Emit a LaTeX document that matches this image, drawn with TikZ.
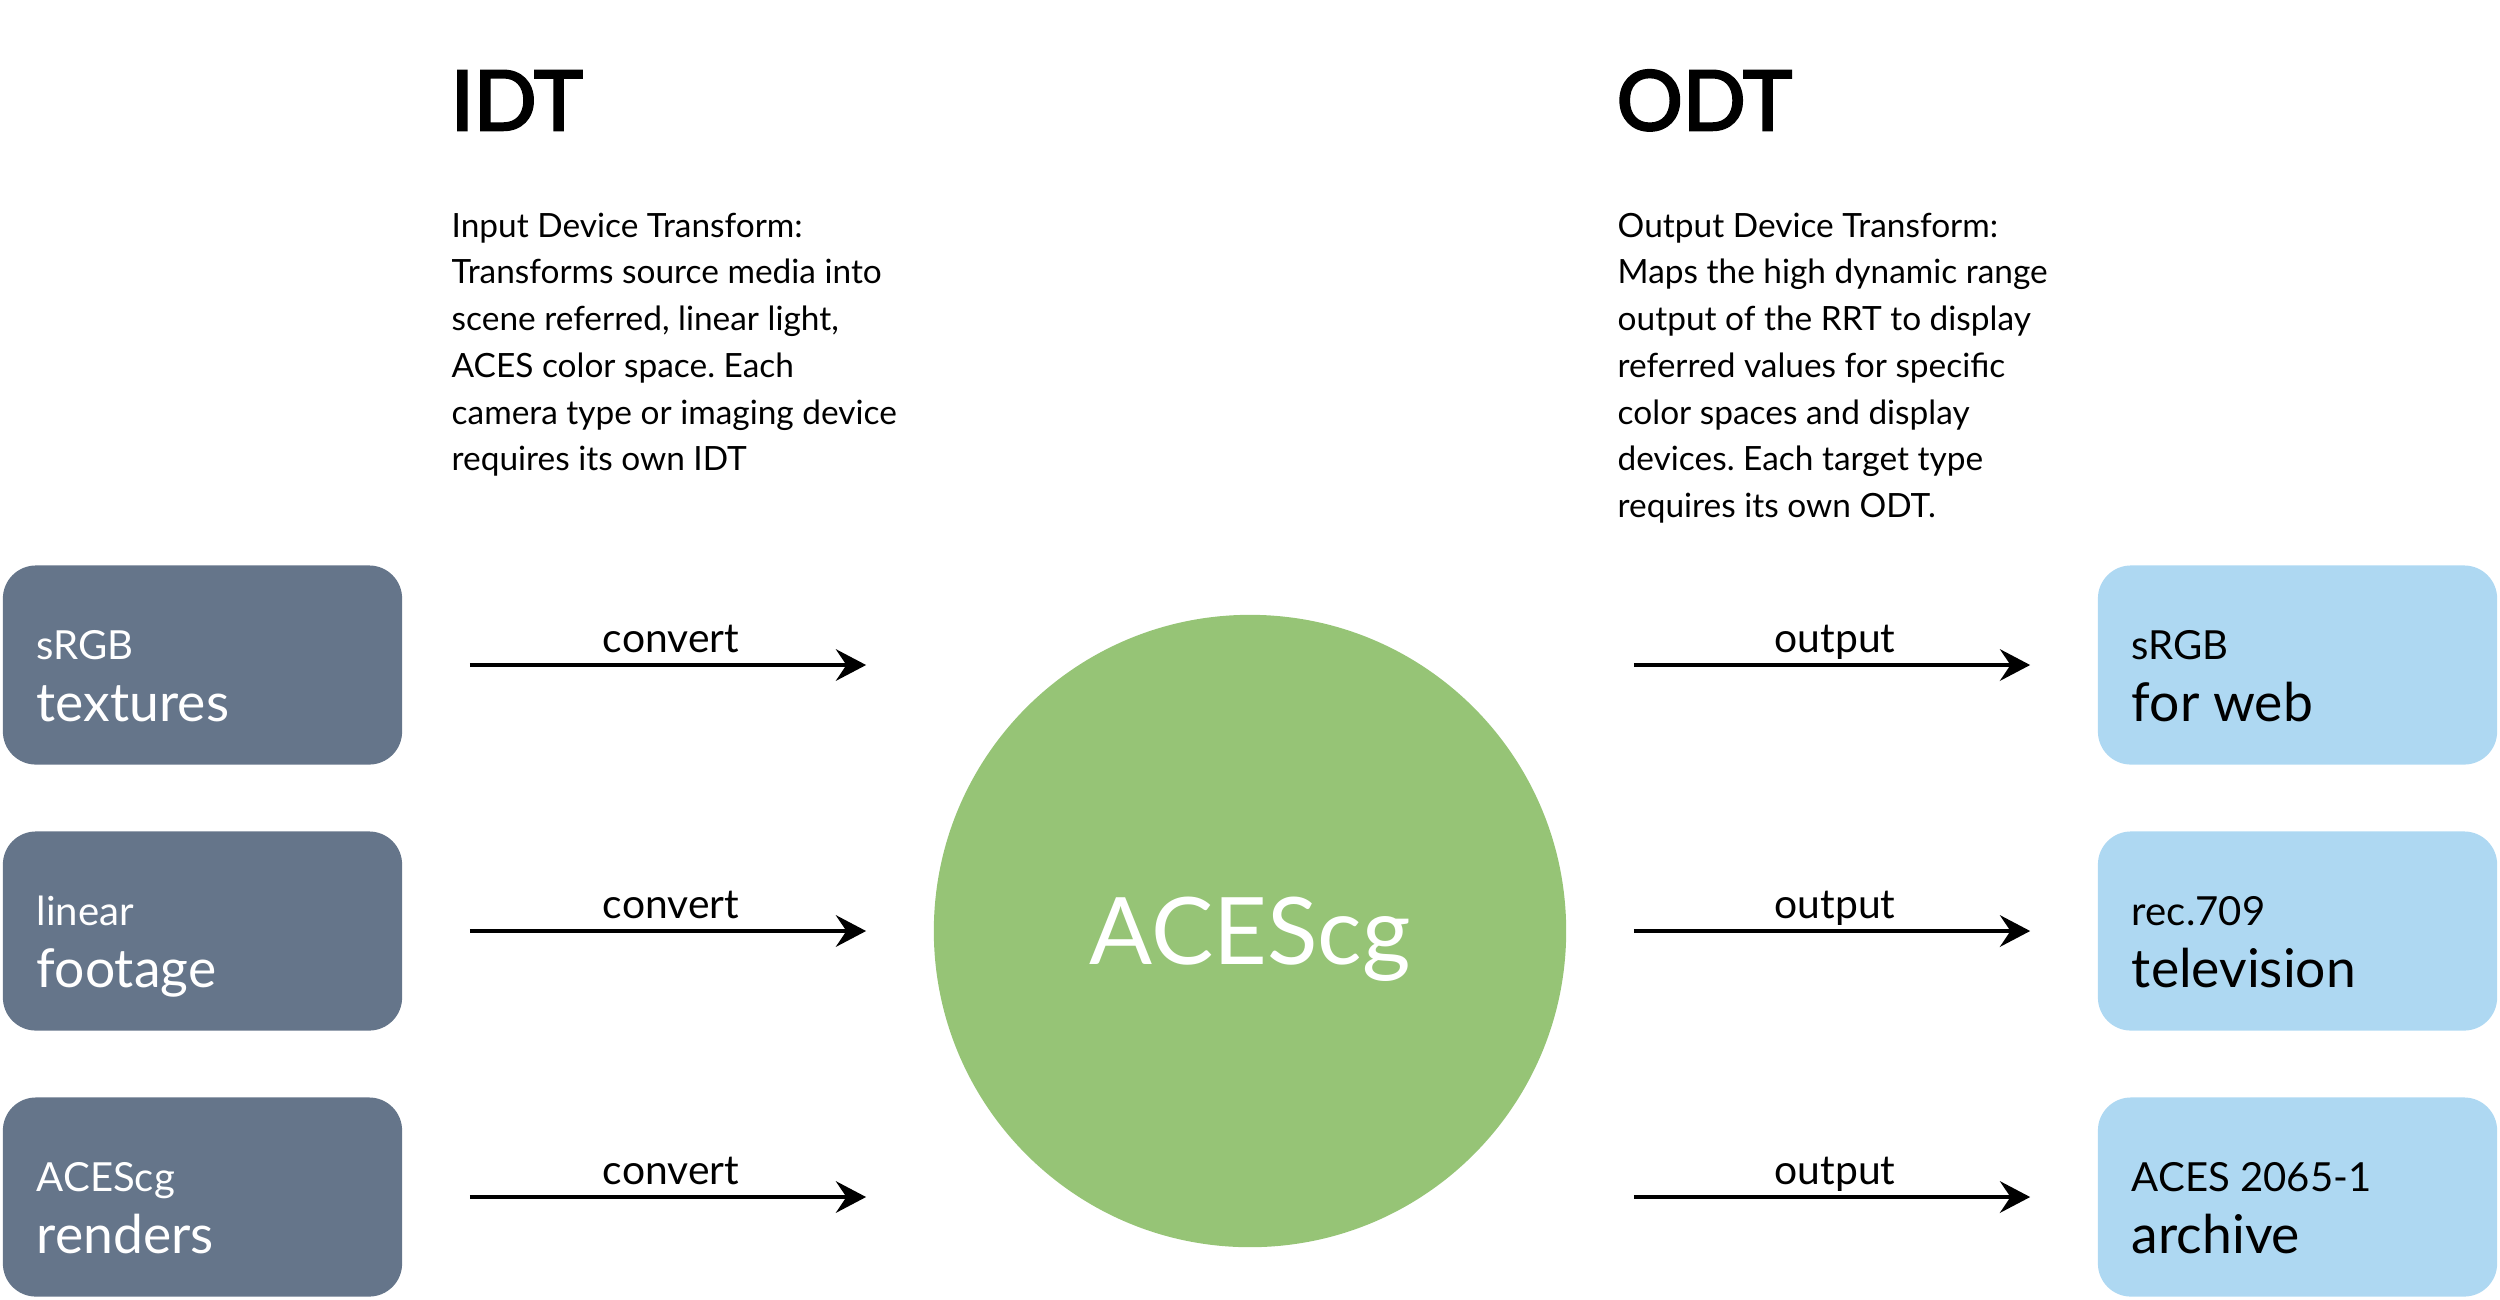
\documentclass[tikz,border=0pt]{standalone}
\usepackage{fontspec}
\setmainfont{Lato}
\newfontface\headface{Lato}[FakeBold=3]
\usepackage{tikz}
\usetikzlibrary{arrows.meta}
\frenchspacing

\definecolor{slate}{HTML}{65758A}
\definecolor{sky}{HTML}{AED8F2}
\definecolor{leaf}{HTML}{96C476}

\tikzset{
  inbox/.style={fill=slate, rounded corners=0.33cm, minimum width=3.99cm, minimum height=1.99cm, inner sep=0pt},
  outbox/.style={inbox, fill=sky},
  cstext/.style={anchor=base west, inner sep=0pt, font=\fontsize{11.4}{14}\selectfont},
  usetext/.style={anchor=base west, inner sep=0pt, font=\fontsize{15.2}{18}\selectfont},
  flow/.style={-{Stealth[length=8.6pt,width=9pt,inset=3pt]}, line width=0.95pt, shorten <=0.67cm, shorten >=0.67cm},
  flowlabel/.style={midway, anchor=base, inner sep=0pt, xshift=0.03cm, yshift=0.13cm, font=\fontsize{11.6}{14}\selectfont},
  heading/.style={anchor=base west, inner sep=0pt, font=\headface\fontsize{23.5}{28}\selectfont},
  desc/.style={anchor=north west, align=left, inner sep=0pt, font=\fontsize{9.5}{13.3}\selectfont}
}

\begin{document}
\begin{tikzpicture}[x=0.01cm, y=-0.01cm]
\useasboundingbox (0,0) rectangle (2500,1299);

\node[heading] (idt) at (450,130) {IDT};
\node[heading] (odt) at (1616,130) {ODT};
\node[desc] (idtdesc) at (451,212) {Input Device Transform:\\Transforms source media into\\scene referred, linear light,\\ACES color space. Each\\camera type or imaging device\\requires its own IDT};
\node[desc] (odtdesc) at (1617,212) {Output Device Transform:\\Maps the high dynamic range\\output of the RRT to display\\referred values for specific\\color spaces and display\\devices. Each target type\\requires its own ODT.};

\node[circle, fill=leaf, minimum size=6.32cm, inner sep=0pt, text=white, text depth=0pt, font=\fontsize{26.5}{32}\selectfont] (aces) at (1250,931) {ACEScg};

\node[inbox] (textures) at (202.5,665) {};
\node[inbox] (footage) at (202.5,931) {};
\node[inbox] (renders) at (202.5,1197) {};
\node[outbox] (web) at (2297.5,665) {};
\node[outbox] (tv) at (2297.5,931) {};
\node[outbox] (archive) at (2297.5,1197) {};

\node[cstext, text=white] (texturesCs) at ([xshift=0.34cm, yshift=0.06cm]textures.west) {sRGB};
\node[usetext, text=white] (texturesUse) at ([xshift=0.34cm, yshift=-0.56cm]textures.west) {textures};
\node[cstext, text=white] (footageCs) at ([xshift=0.34cm, yshift=0.06cm]footage.west) {linear};
\node[usetext, text=white] (footageUse) at ([xshift=0.34cm, yshift=-0.56cm]footage.west) {footage};
\node[cstext, text=white] (rendersCs) at ([xshift=0.34cm, yshift=0.06cm]renders.west) {ACEScg};
\node[usetext, text=white] (rendersUse) at ([xshift=0.34cm, yshift=-0.56cm]renders.west) {renders};
\node[cstext] (webCs) at ([xshift=0.34cm, yshift=0.06cm]web.west) {sRGB};
\node[usetext] (webUse) at ([xshift=0.34cm, yshift=-0.56cm]web.west) {for web};
\node[cstext] (tvCs) at ([xshift=0.34cm, yshift=0.06cm]tv.west) {rec.709};
\node[usetext] (tvUse) at ([xshift=0.34cm, yshift=-0.56cm]tv.west) {television};
\node[cstext] (archiveCs) at ([xshift=0.34cm, yshift=0.06cm]archive.west) {ACES 2065-1};
\node[usetext] (archiveUse) at ([xshift=0.34cm, yshift=-0.56cm]archive.west) {archive};

\draw[flow] (textures.east) -- (textures.east -| aces.west) node[flowlabel] {convert};
\draw[flow] (footage.east) -- (footage.east -| aces.west) node[flowlabel] {convert};
\draw[flow] (renders.east) -- (renders.east -| aces.west) node[flowlabel] {convert};
\draw[flow] (aces.east |- web.west) -- (web.west) node[flowlabel] {output};
\draw[flow] (aces.east |- tv.west) -- (tv.west) node[flowlabel] {output};
\draw[flow] (aces.east |- archive.west) -- (archive.west) node[flowlabel] {output};
\end{tikzpicture}
\end{document}
